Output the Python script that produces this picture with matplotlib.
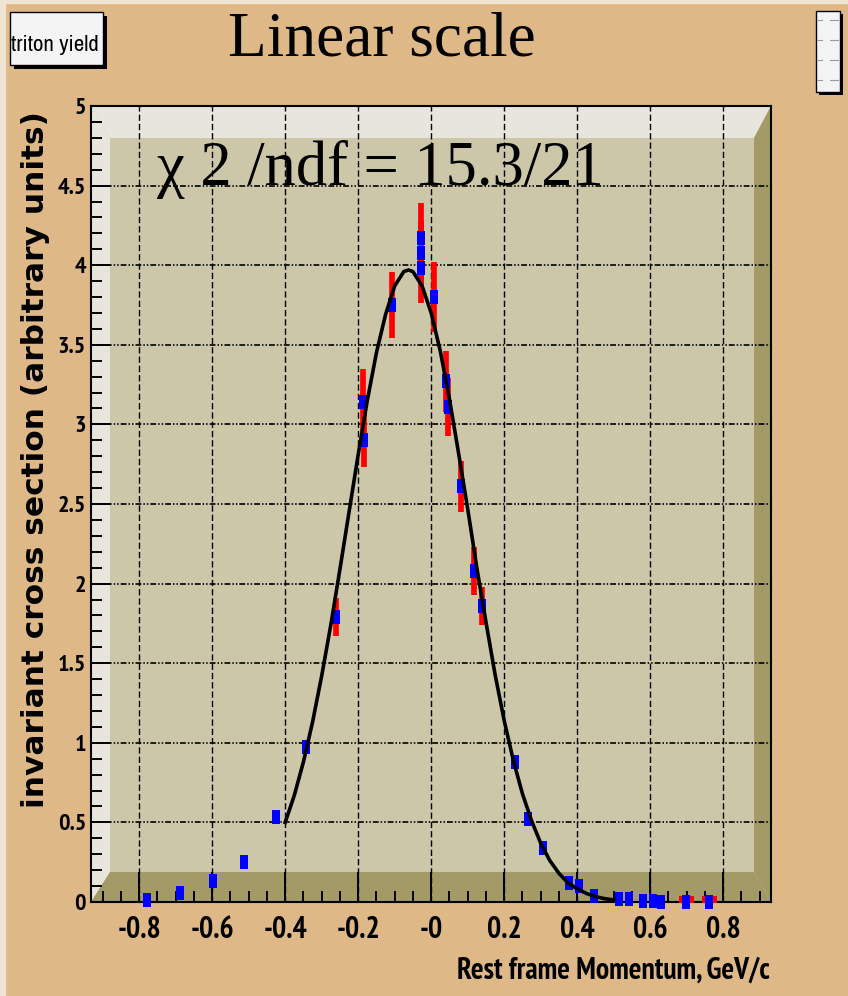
import matplotlib
matplotlib.use('Agg')
import matplotlib.pyplot as plt
from matplotlib import font_manager
from matplotlib.font_manager import FontProperties
from matplotlib.path import Path
from matplotlib.patches import Polygon, Rectangle
from matplotlib.lines import Line2D

# measured triton yield (blue points) with errors (red bars)
p_mom = [-0.779, -0.687, -0.599, -0.512, -0.426, -0.344, -0.262, -0.186,
         -0.184, -0.106, -0.029, -0.029, -0.029, 0.008, 0.040, 0.047,
         0.083, 0.117, 0.138, 0.229, 0.264, 0.307, 0.378, 0.405,
         0.446, 0.515, 0.542, 0.581, 0.608, 0.629, 0.697, 0.762]
yld = [0.01, 0.057, 0.134, 0.249, 0.531, 0.971, 1.79, 3.14,
       2.90, 3.75, 4.17, 4.075, 3.98, 3.80, 3.27, 3.11,
       2.61, 2.08, 1.86, 0.88, 0.52, 0.34, 0.12, 0.10,
       0.04, 0.02, 0.02, 0.005, 0.005, 0.0, 0.0, 0.0]
yld_err = [0, 0, 0, 0, 0, 0, 0.12, 0.21,
           0.17, 0.21, 0.22, 0.20, 0.22, 0.22, 0.19, 0.18,
           0.16, 0.15, 0.12, 0, 0, 0, 0, 0,
           0, 0, 0, 0, 0, 0, 0, 0]

# red points sitting at zero on the right
red_mom = [0.697, 0.762]
red_yld = [0.02, 0.02]

# fitted curve
fit_x = [-0.400, -0.375, -0.350, -0.325, -0.300, -0.275, -0.250, -0.225,
         -0.200, -0.175, -0.150, -0.125, -0.100, -0.075, -0.062, -0.050,
         -0.025, 0.000, 0.025, 0.050, 0.075, 0.100, 0.125, 0.150,
         0.175, 0.200, 0.225, 0.250, 0.275, 0.300, 0.325, 0.350,
         0.375, 0.400, 0.425, 0.450, 0.475, 0.500]
fit_y = [0.50, 0.67, 0.88, 1.13, 1.42, 1.74, 2.09, 2.45,
         2.81, 3.15, 3.45, 3.69, 3.87, 3.96, 3.97, 3.96,
         3.87, 3.70, 3.46, 3.16, 2.82, 2.47, 2.10, 1.76,
         1.43, 1.14, 0.89, 0.68, 0.51, 0.37, 0.26, 0.18,
         0.12, 0.083, 0.054, 0.034, 0.021, 0.013]

x_ticks = [-0.8, -0.6, -0.4, -0.2, 0.0, 0.2, 0.4, 0.6, 0.8]
x_ticklabels = ['-0.8', '-0.6', '-0.4', '-0.2', '-0', '0.2', '0.4', '0.6', '0.8']
y_ticks = [0, 0.5, 1, 1.5, 2, 2.5, 3, 3.5, 4, 4.5, 5]
y_ticklabels = ['0', '0.5', '1', '1.5', '2', '2.5', '3', '3.5', '4', '4.5', '5']

W, H = 848, 996
tan = '#deb887'
wall = '#ccc7a9'
light = '#e8e6dc'
dark = '#a39a68'
serif = ['Liberation Serif', 'DejaVu Serif']

# narrow sans (regular + bold files) for the axis texts
reg_file, bold_file = None, None
for f in font_manager.fontManager.ttflist:
    if 'Narrow' in f.name and f.style == 'normal':
        if f.weight in (700, 'bold') and bold_file is None:
            bold_file = f.fname
        elif f.weight in (400, 'normal', 'regular') and reg_file is None:
            reg_file = f.fname


def sans(size, bold=False):
    path = bold_file if bold else reg_file
    if path is None:
        return FontProperties(family='Liberation Sans', size=size / 1.2,
                              weight='bold' if bold else 'normal')
    return FontProperties(fname=path, size=size)


def fx(px):
    return px / W


def fy(py):
    return 1 - py / H


fig = plt.figure(figsize=(W / 100, H / 100), dpi=100, facecolor=tan)

# canvas bevel
fig.patches.append(Rectangle((0, fy(3)), 1, 3 / H, transform=fig.transFigure,
                             color='#f0e4d2', zorder=0))
fig.patches.append(Rectangle((0, 0), 5 / W, 1, transform=fig.transFigure,
                             color='#f0e4d2', zorder=0))

ax = fig.add_axes([fx(91), fy(902), fx(771) - fx(91), fy(106) - fy(902)])
ax.set_facecolor(wall)
ax.set_xlim(-0.932, 0.931)
ax.set_ylim(0, 5)

# 3D frame walls
ix0, ix1 = (110 - 91) / 680, (754 - 91) / 680
iy0, iy1 = (902 - 872) / 796, (902 - 138) / 796
for pts, c in [([(0, 1), (1, 1), (ix1, iy1), (ix0, iy1)], light),
               ([(0, 1), (ix0, iy1), (ix0, iy0), (0, 0)], light),
               ([(0, 0), (ix0, iy0), (ix1, iy0), (1, 0)], dark),
               ([(1, 0), (ix1, iy0), (ix1, iy1), (1, 1)], dark)]:
    ax.add_patch(Polygon(pts, closed=True, transform=ax.transAxes,
                         facecolor=c, edgecolor='none', zorder=0.2))

ax.set_axisbelow(True)
ax.xaxis.grid(True, color='black', linewidth=1.0, linestyle=(0, (4.5, 2.2)))
ax.yaxis.grid(True, color='black', linewidth=1.2,
              linestyle=(0, (3.5, 1.2, 0.9, 1.2, 0.9, 1.2)))

ax.set_xticks(x_ticks)
ax.set_xticklabels(x_ticklabels, fontproperties=sans(21.5, bold=True))
ax.set_xticks([v / 100 for v in range(-90, 95, 5)], minor=True)
ax.set_yticks(y_ticks)
ax.set_yticklabels(y_ticklabels, fontproperties=sans(17.5, bold=True))
ax.set_yticks([v / 10 for v in range(0, 51)], minor=True)
ax.tick_params(axis='x', which='major', direction='in', length=21.6, width=1.4, pad=10)
ax.tick_params(axis='x', which='minor', direction='in', length=7.9, width=1.4)
ax.tick_params(axis='y', which='major', direction='in', length=13.7, width=1.4, pad=3.5)
ax.tick_params(axis='y', which='minor', direction='in', length=7.7, width=1.4)
for s in ax.spines.values():
    s.set_linewidth(1.5)

# data
ax.errorbar(p_mom, yld, yerr=yld_err, fmt='none', ecolor='#ff0000',
            elinewidth=4.1, capsize=0, zorder=3)
red_box = Path([(-7.5, -3.5), (7.5, -3.5), (7.5, 3.5), (-7.5, 3.5), (-7.5, -3.5)])
ax.plot(red_mom, red_yld, linestyle='none', marker=red_box, markersize=10.8,
        color='#ff0000', markeredgewidth=0, zorder=3, clip_on=False)
blue_box = Path([(-4.3, -6.5), (4.3, -6.5), (4.3, 6.5), (-4.3, 6.5), (-4.3, -6.5)])
ax.plot(p_mom, yld, linestyle='none', marker=blue_box, markersize=9.6,
        color='#0000ff', markeredgewidth=0, zorder=4, clip_on=False)
ax.plot(fit_x, fit_y, color='black', linewidth=2.6, zorder=5)

# texts
fig.text(fx(36), fy(460), 'invariant cross section (arbitrary units)', rotation=90,
         ha='center', va='center', fontfamily='DejaVu Sans', fontweight='bold', fontsize=22.5)
fig.text(fx(770), fy(979), 'Rest frame Momentum, GeV/c', ha='right', va='baseline',
         fontproperties=sans(21.3, bold=True))
fig.text(fx(157), fy(185), '\u03c7 2 /ndf = 15.3/21', ha='left', va='baseline',
         fontfamily=serif, fontsize=45)
fig.text(fx(228), fy(55), 'Linear scale', ha='left', va='baseline',
         fontfamily=serif, fontsize=45.5)

# title box
fig.patches.append(Rectangle((fx(14), fy(69)), 93 / W, 53 / H, transform=fig.transFigure,
                             facecolor='black', edgecolor='none', zorder=1))
fig.patches.append(Rectangle((fx(10), fy(65)), 93 / W, 53 / H, transform=fig.transFigure,
                             facecolor='#f4f4f4', edgecolor='black', linewidth=1, zorder=2))
fig.text(fx(55), fy(51), 'triton yield', ha='center', va='baseline',
         fontproperties=sans(16.5), zorder=3)

# small stats box
fig.patches.append(Rectangle((fx(819), fy(95)), 24 / W, 81 / H, transform=fig.transFigure,
                             facecolor='black', edgecolor='none', zorder=1))
fig.patches.append(Rectangle((fx(816), fy(92)), 24 / W, 81 / H, transform=fig.transFigure,
                             facecolor='#f4f4f4', edgecolor='black', linewidth=1, zorder=2))
for row in [20, 40, 60, 80]:
    for a, b in [(818, 822), (830, 838)]:
        fig.lines.append(Line2D([fx(a), fx(b)], [fy(row), fy(row)], transform=fig.transFigure,
                                color='#9a9a9a', linewidth=0.8, zorder=3))

fig.savefig('out.png', dpi=100, facecolor=tan)
